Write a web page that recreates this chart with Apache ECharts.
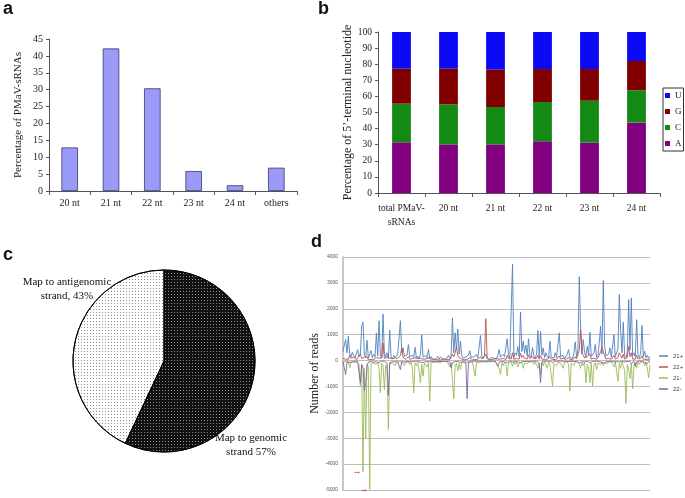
<!DOCTYPE html>
<html>
<head>
<meta charset="utf-8">
<script src="https://cdn.jsdelivr.net/npm/echarts@6/dist/echarts.min.js"></script>
<style>html,body{margin:0;padding:0;background:#fff;}#c{width:685px;height:498px;}</style>
</head>
<body>
<div id="c"></div>
<script>
// ---- Panel a ----
const catsA = ['20 nt', '21 nt', '22 nt', '23 nt', '24 nt', 'others'];
const valsA = [12.9, 42.2, 30.4, 5.9, 1.7, 6.9];

// ---- Panel b ----
const catsB = ['total PMaV-\nsRNAs', '20 nt', '21 nt', '22 nt', '23 nt', '24 nt'];
const nucA = [31.5, 30.2, 30.2, 32.1, 31.3, 43.7];
const nucC = [24.0, 24.9, 23.2, 24.4, 26.0, 20.1];
const nucG = [21.7, 22.1, 23.2, 20.5, 19.7, 18.2];
const nucU = [22.8, 22.8, 23.4, 23.0, 23.0, 18.0];

// ---- Panel c ----
const pieNames = ['Map to genomic\nstrand', 'Map to antigenomic\nstrand,'];
const pieVals = [57, 43];

// ---- Panel d ----
const s21p = [350,600,810,300,940,250,150,320,200,100,280,420,150,230,1350,1480,200,120,785,90,
160,390,110,240,130,1070,180,1540,220,90,1800,260,140,300,80,1170,150,60,200,110,
70,250,180,1540,300,490,160,90,220,620,140,80,210,120,515,90,170,60,240,990,
130,80,190,110,425,70,150,60,120,40,90,160,50,130,80,60,110,40,90,200,
70,150,1650,300,1070,420,1220,250,750,180,100,60,140,80,210,380,120,60,150,90,
230,110,70,965,160,80,130,250,60,100,40,120,70,90,150,60,200,425,130,80,
240,150,100,840,200,90,160,3730,120,300,200,540,150,1880,350,750,280,600,180,840,
200,120,500,180,90,250,1160,130,1120,200,490,110,300,160,80,750,140,200,90,300,
120,60,1070,150,90,200,70,130,250,425,110,180,80,300,720,150,400,3240,1350,250,
810,300,140,550,200,1090,160,90,300,620,120,200,700,1320,250,3090,600,180,110,250,
490,130,200,1000,150,90,450,2550,1140,300,1480,200,120,350,2355,400,2420,180,300,150,
1580,200,120,280,1350,150,360,100,200,80,150];
const s22p = [80,150,60,120,40,200,90,50,130,70,30,110,60,250,90,40,120,60,150,30,
80,50,100,40,70,120,60,90,40,110,680,80,50,130,60,90,40,70,30,100,
50,80,140,200,490,120,60,40,90,150,50,30,80,60,110,40,70,30,90,160,
50,30,60,40,100,30,50,20,60,30,40,70,20,50,30,40,60,20,40,80,
30,60,250,150,300,550,200,120,180,60,40,30,60,40,80,120,50,30,60,40,
90,50,30,150,60,40,200,1620,100,50,30,60,40,50,70,30,60,120,50,40,
90,60,40,200,80,40,60,300,50,120,80,150,60,280,120,200,90,150,60,220,
80,50,150,60,40,90,200,50,180,60,120,40,90,50,30,150,60,80,40,100,
50,30,180,60,40,80,30,50,90,120,40,60,30,90,150,60,120,400,1200,300,
200,100,60,150,80,250,60,40,90,150,50,80,200,350,515,450,180,60,40,90,
120,50,80,200,60,40,120,300,200,90,250,60,40,120,550,150,300,60,90,50,
200,60,40,90,180,50,80,40,60,30,50];
const s21m = [-60,-120,-40,-90,-30,-280,-50,-80,-30,-100,-40,-70,-150,-990,-200,-4300,-300,-2990,-150,-250,
-4980,-120,-60,-90,-40,-150,-70,-300,-1250,-100,-200,-1120,-180,-300,-2660,-120,-60,-90,-150,-200,
-60,-100,-40,-80,-50,-120,-200,-60,-90,-40,-150,-70,-300,-1250,-90,-200,-60,-400,-860,-150,
-600,-100,-40,-250,-80,-1570,-90,-40,-70,-30,-60,-40,-90,-30,-50,-70,-30,-50,-40,-60,
-250,-80,-150,-1480,-200,-100,-400,-120,-350,-60,-40,-90,-30,-60,-40,-80,-30,-50,-70,-600,
-60,-40,-90,-30,-50,-70,-40,-100,-60,-30,-50,-80,-30,-60,-40,-120,-70,-300,-540,-80,
-200,-60,-150,-600,-100,-50,-80,-220,-60,-150,-40,-250,-90,-150,-60,-300,-100,-50,-120,-80,
-40,-100,-60,-150,-40,-80,-300,-100,-540,-60,-200,-40,-80,-300,-60,-150,-90,-990,-120,-50,
-200,-80,-40,-100,-60,-300,-50,-80,-40,-150,-1180,-90,-50,-200,-60,-100,-40,-150,-300,-80,
-200,-60,-860,-150,-300,-860,-100,-990,-200,-80,-350,-100,-60,-150,-40,-200,-80,-50,-120,-40,
-80,-60,-150,-250,-40,-100,-800,-120,-300,-60,-200,-400,-1660,-150,-350,-700,-100,-1090,-200,-80,
-300,-60,-150,-50,-100,-40,-200,-80,-300,-670,-150];
const s22m = [-40,-100,-540,-60,-30,-80,-20,-50,-30,-60,-20,-40,-80,-860,-150,-300,-1180,-860,-200,-60,
-100,-40,-30,-60,-20,-50,-30,-80,-40,-20,-60,-30,-50,-100,-1340,-80,-30,-50,-20,-40,
-30,-60,-20,-350,-40,-30,-60,-20,-40,-30,-50,-20,-40,-100,-30,-50,-20,-40,-60,-30,
-80,-20,-40,-30,-50,-20,-30,-20,-40,-20,-30,-20,-40,-20,-30,-20,-40,-20,-30,-40,
-60,-280,-80,-120,-40,-60,-30,-50,-80,-30,-20,-40,-60,-1470,-50,-30,-20,-40,-30,-60,
-20,-40,-30,-50,-20,-30,-40,-60,-20,-30,-20,-40,-30,-50,-20,-40,-220,-60,-30,-40,
-20,-50,-30,-80,-40,-20,-30,-60,-20,-40,-30,-50,-20,-80,-30,-40,-20,-30,-50,-40,
-20,-30,-60,-20,-40,-30,-50,-100,-860,-60,-30,-20,-40,-30,-50,-20,-40,-80,-30,-20,
-40,-30,-60,-20,-40,-30,-20,-50,-30,-40,-80,-30,-20,-40,-60,-30,-50,-100,-80,-40,
-30,-60,-40,-20,-50,-80,-30,-40,-60,-20,-40,-30,-50,-60,-40,-100,-30,-50,-20,-40,
-60,-30,-20,-50,-30,-40,-80,-60,-30,-40,-20,-50,-60,-30,-80,-40,-120,-50,-30,-220,
-60,-40,-20,-50,-30,-40,-80,-30,-120,-40,-60];
const positionsD = s21p.map((_, i) => String(i + 1));
const arrowPts = [15, 20];
const yTicksD = { min: -5000, max: 4000, interval: 1000 };

const serif = '"Liberation Serif", "DejaVu Serif", serif';
const sans = '"Liberation Sans", Arial, sans-serif';

const chart = echarts.init(document.getElementById('c'), null, { renderer: 'canvas' });

const axisLineDark = { show: true, lineStyle: { color: '#555', width: 1 } };
const panelLetter = { fontFamily: sans, fontWeight: 'bold', fontSize: 18, color: '#111' };

const option = {
  animation: false,
  backgroundColor: '#fff',
  textStyle: { fontFamily: serif },
  title: [
    { text: 'a', left: 3, top: 0, padding: 0, textStyle: panelLetter },
    { text: 'b', left: 318, top: 0, padding: 0, textStyle: panelLetter },
    { text: 'c', left: 3, top: 246, padding: 0, textStyle: panelLetter },
    { text: 'd', left: 311, top: 233, padding: 0, textStyle: panelLetter }
  ],
  grid: [
    { left: 49, top: 39, width: 248, height: 152 },
    { left: 378, top: 32, width: 282, height: 161 },
    { left: 343, top: 257, width: 307, height: 233 }
  ],
  legend: [
    {
      data: ['U', 'G', 'C', 'A'], orient: 'vertical', left: 663, top: 88,
      icon: 'rect', itemWidth: 5, itemHeight: 5, itemGap: 7,
      padding: [3, 2, 3, 2], borderColor: '#333', borderWidth: 1,
      textStyle: { fontFamily: serif, fontSize: 9, color: '#222' }
    },
    {
      data: ['21+', '22+', '21-', '22-'], orient: 'vertical', left: 659, top: 352,
      icon: 'rect', itemWidth: 9, itemHeight: 1.5, itemGap: 3, padding: 0,
      textStyle: { fontFamily: sans, fontSize: 6, color: '#444', lineHeight: 8 }
    }
  ],
  xAxis: [
    {
      gridIndex: 0, type: 'category', data: catsA,
      axisLine: axisLineDark,
      axisTick: { show: true, length: 4, lineStyle: { color: '#555' } },
      axisLabel: { fontFamily: serif, fontSize: 10, color: '#222', margin: 7, interval: 0 }
    },
    {
      gridIndex: 1, type: 'category', data: catsB,
      axisLine: axisLineDark,
      axisTick: { show: true, length: 4, lineStyle: { color: '#555' } },
      axisLabel: { fontFamily: serif, fontSize: 9.5, color: '#222', margin: 8, lineHeight: 14, interval: 0 }
    },
    {
      gridIndex: 2, type: 'category', data: positionsD, boundaryGap: false,
      axisLine: { show: false }, axisTick: { show: false }, axisLabel: { show: false }
    }
  ],
  yAxis: [
    {
      gridIndex: 0, type: 'value', min: 0, max: 45, interval: 5,
      name: 'Percentage of PMaV-sRNAs', nameLocation: 'middle', nameGap: 25,
      nameTextStyle: { fontFamily: serif, fontSize: 11, color: '#222' },
      axisLine: axisLineDark,
      axisTick: { show: true, length: 3, lineStyle: { color: '#555' } },
      splitLine: { show: false },
      axisLabel: { fontFamily: serif, fontSize: 10, color: '#222', margin: 6 }
    },
    {
      gridIndex: 1, type: 'value', min: 0, max: 100, interval: 10,
      name: 'Percentage of 5’-terminal nucleotide', nameLocation: 'middle', nameGap: 23,
      nameTextStyle: { fontFamily: serif, fontSize: 12, color: '#222' },
      axisLine: axisLineDark,
      axisTick: { show: true, length: 3, lineStyle: { color: '#555' } },
      splitLine: { show: false },
      axisLabel: { fontFamily: serif, fontSize: 9.5, color: '#222', margin: 6 }
    },
    {
      gridIndex: 2, type: 'value', min: yTicksD.min, max: yTicksD.max, interval: yTicksD.interval,
      name: 'Number of reads', nameLocation: 'middle', nameGap: 21,
      nameTextStyle: { fontFamily: serif, fontSize: 12, color: '#222' },
      axisLine: { show: true, lineStyle: { color: '#c8c8c8', width: 2 } },
      axisTick: { show: false },
      splitLine: { show: true, lineStyle: { color: '#bdbdbd', width: 1 } },
      axisLabel: { fontFamily: sans, fontSize: 5, color: '#555', margin: 5, formatter: v => String(v) }
    }
  ],
  series: [
    {
      type: 'bar', xAxisIndex: 0, yAxisIndex: 0, data: valsA, barWidth: '40%',
      itemStyle: { color: '#9a9af8', borderColor: '#3a3a6a', borderWidth: 0.8 }
    },
    { name: 'A', type: 'bar', stack: 'n', xAxisIndex: 1, yAxisIndex: 1, data: nucA, barWidth: '40%', itemStyle: { color: '#800080' } },
    { name: 'C', type: 'bar', stack: 'n', xAxisIndex: 1, yAxisIndex: 1, data: nucC, barWidth: '40%', itemStyle: { color: '#138a13' } },
    { name: 'G', type: 'bar', stack: 'n', xAxisIndex: 1, yAxisIndex: 1, data: nucG, barWidth: '40%', itemStyle: { color: '#800000' } },
    { name: 'U', type: 'bar', stack: 'n', xAxisIndex: 1, yAxisIndex: 1, data: nucU, barWidth: '40%', itemStyle: { color: '#0a0af5' } },
    {
      type: 'pie', center: [164, 361], radius: 91, startAngle: 90, clockwise: true,
      data: [
        {
          name: pieNames[0], value: pieVals[0],
          itemStyle: {
            color: '#111', borderColor: '#000', borderWidth: 1,
            decal: { symbol: 'circle', symbolSize: 1, color: 'rgba(255,255,255,0.7)', dashArrayX: [1, 2], dashArrayY: [1, 2] }
          }
        },
        {
          name: pieNames[1], value: pieVals[1],
          itemStyle: {
            color: '#fff', borderColor: '#000', borderWidth: 1,
            decal: { symbol: 'circle', symbolSize: 1, color: 'rgba(0,0,0,0.6)', dashArrayX: [1, 2], dashArrayY: [1, 2] }
          }
        }
      ],
      label: {
        show: true, position: 'inside', formatter: '{b} {c}%', fontFamily: serif, fontSize: 11, color: '#111',
        lineHeight: 14, align: 'center', backgroundColor: 'transparent', textBorderWidth: 0
      },
      labelLine: { show: false },
      labelLayout: function (p) {
        return p.dataIndex === 0
          ? { x: 251, y: 445, align: 'center', verticalAlign: 'middle' }
          : { x: 67, y: 289, align: 'center', verticalAlign: 'middle' };
      },
      emphasis: { disabled: true }
    },
    {
      name: '21+', type: 'line', xAxisIndex: 2, yAxisIndex: 2, data: s21p, symbol: 'none',
      lineStyle: { color: '#4f81bd', width: 0.9 }, itemStyle: { color: '#4f81bd' }
    },
    {
      name: '22+', type: 'line', xAxisIndex: 2, yAxisIndex: 2, data: s22p, symbol: 'none',
      lineStyle: { color: '#c0504d', width: 0.9 }, itemStyle: { color: '#c0504d' }
    },
    {
      name: '21-', type: 'line', xAxisIndex: 2, yAxisIndex: 2, data: s21m, symbol: 'none',
      lineStyle: { color: '#9bbb59', width: 0.9 }, itemStyle: { color: '#9bbb59' },
      markPoint: {
        symbol: 'circle', symbolSize: 1, itemStyle: { color: 'rgba(0,0,0,0)' },
        label: { show: true, formatter: '→', position: 'left', distance: 1, color: '#e00000', fontSize: 9, fontFamily: sans },
        data: arrowPts.map(i => ({ coord: [i, s21m[i]] }))
      }
    },
    {
      name: '22-', type: 'line', xAxisIndex: 2, yAxisIndex: 2, data: s22m, symbol: 'none',
      lineStyle: { color: '#8064a2', width: 0.9 }, itemStyle: { color: '#8064a2' }
    }
  ]
};
chart.setOption(option);
</script>
</body>
</html>
